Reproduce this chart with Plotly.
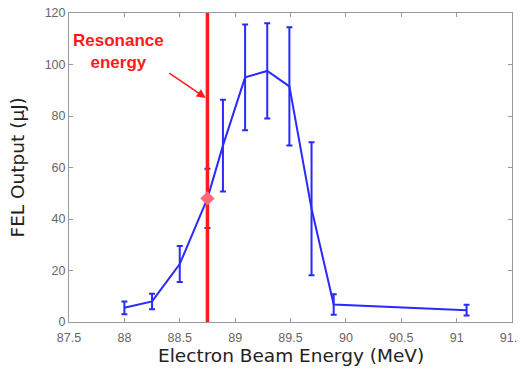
import plotly.graph_objects as go

energy = [88.0, 88.25, 88.5, 88.75, 88.89, 89.09, 89.29, 89.49, 89.69, 89.89, 91.09]
output = [5.5, 8.0, 22.5, 48.0, 68.5, 95.0, 97.5, 91.5, 44.0, 6.8, 4.6]
err = [2.5, 3.0, 7.0, 11.5, 17.8, 20.5, 18.5, 23.0, 25.8, 4.0, 2.1]
resonance_x = 88.75
resonance_y = 48.0
x_ticks = [87.5, 88, 88.5, 89, 89.5, 90, 90.5, 91, 91.5]
y_ticks = [0, 20, 40, 60, 80, 100, 120]

blue = "#2a2aff"
red = "#ff1a1a"

fig = go.Figure()
fig.add_trace(go.Scatter(
    x=energy, y=output, mode="lines",
    line=dict(color=blue, width=2),
    error_y=dict(type="data", array=err, visible=True, color=blue, thickness=2, width=3),
    showlegend=False, hoverinfo="skip"))
fig.add_trace(go.Scatter(
    x=[resonance_x, resonance_x], y=[0, 120], mode="lines",
    line=dict(color=red, width=3.5), showlegend=False, hoverinfo="skip"))
fig.add_trace(go.Scatter(
    x=[resonance_x], y=[resonance_y], mode="markers",
    marker=dict(symbol="diamond", size=11, color="#ff6a7a"),
    showlegend=False, hoverinfo="skip"))

fig.add_annotation(x=87.945, y=105.0, xref="x", yref="y",
                   text="<b>Resonance<br>energy</b>", showarrow=False,
                   font=dict(family="Liberation Sans, Arial", size=17, color=red),
                   align="center")
fig.add_annotation(x=88.735, y=87, xref="x", yref="y", text="",
                   showarrow=True, ax=-38, ay=-26, arrowcolor=red,
                   arrowwidth=1.5, arrowhead=2, arrowsize=1.2)

# axis titles placed as paper annotations
fig.add_annotation(x=0.5, y=0, xref="paper", yref="paper", yshift=-33,
                   text="Electron Beam Energy (MeV)", showarrow=False,
                   xanchor="center", yanchor="middle",
                   font=dict(family="DejaVu Sans, Verdana", size=18.5, color="#222222"))
fig.add_annotation(x=0, y=0.5, xref="paper", yref="paper", xshift=-52,
                   text="FEL Output (μJ)", showarrow=False, textangle=-90,
                   xanchor="center", yanchor="middle",
                   font=dict(family="DejaVu Sans, Verdana", size=18.5, color="#222222"))

axis_common = dict(showgrid=False, zeroline=False, showline=True, linecolor="#999999",
                   linewidth=1, mirror="ticks", ticks="inside", ticklen=4,
                   tickcolor="#999999", automargin=False, ticklabeloverflow="allow",
                   tickfont=dict(family="Liberation Sans, Arial", size=12.5, color="#666666"))

fig.update_xaxes(range=[87.5, 91.5], tickvals=x_ticks, ticktext=[str(v) for v in x_ticks],
                 ticklabelstandoff=4, **axis_common)
fig.update_yaxes(range=[0, 120], tickvals=y_ticks, **axis_common)

fig.update_layout(width=518, height=364, margin=dict(l=61, r=14, t=5, b=50),
                  plot_bgcolor="white", paper_bgcolor="white")
fig.write_html("out.html")
